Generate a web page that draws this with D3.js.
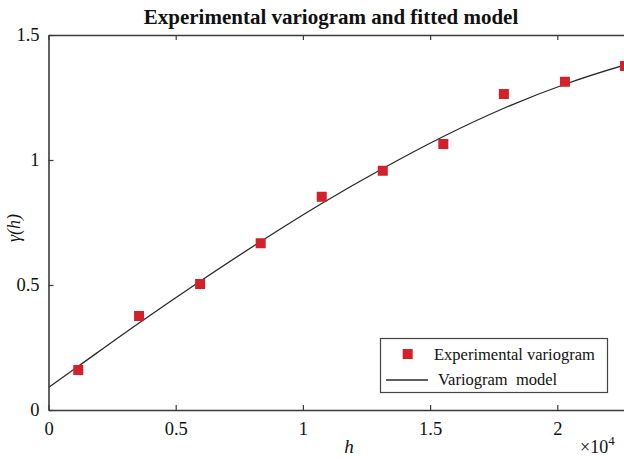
<!DOCTYPE html>
<html>
<head>
<meta charset="utf-8">
<script src="https://cdn.jsdelivr.net/npm/d3@7"></script>
<style>
  html, body { margin: 0; padding: 0; background: #fff; }
  svg { display: block; font-family: "Liberation Serif", "Times New Roman", serif; }
</style>
</head>
<body>
<div id="chart"></div>
<script>
// Experimental variogram: lag distance h and semivariance gamma(h)
const lagH = [1170, 3560, 5960, 8340, 10740, 13140, 15520, 17900, 20300, 22660];
const gammaExp = [0.160, 0.376, 0.504, 0.667, 0.853, 0.957, 1.064, 1.264, 1.313, 1.376];

// Fitted variogram model, sampled along h
const modelH = [0, 1170, 3560, 5960, 8340, 10740, 13140, 15520, 17900, 20300, 22660, 23000];
const modelGamma = [0.090, 0.175, 0.348, 0.515, 0.674, 0.826, 0.966, 1.094, 1.207, 1.303, 1.380, 1.390];

// Axis ticks
const xTicks = [0, 5000, 10000, 15000, 20000];
const xTickLabels = ["0", "0.5", "1", "1.5", "2"];
const yTicks = [0, 0.5, 1, 1.5];
const yTickLabels = ["0", "0.5", "1", "1.5"];

const W = 624, H = 459;
const plotLeft = 48.5, plotTop = 35, plotBottom = 410;
const xMax = 23000;
const plotRight = plotLeft + 254.4 * (xMax / 10000);

const svg = d3.select("#chart").append("svg")
  .attr("width", W).attr("height", H);

const x = d3.scaleLinear().domain([0, xMax]).range([plotLeft, plotRight]);
const y = d3.scaleLinear().domain([0, 1.5]).range([plotBottom, plotTop]);

const axisColor = "#3a3a3a";

svg.append("defs").append("clipPath").attr("id", "plot")
  .append("rect").attr("x", plotLeft).attr("y", plotTop)
  .attr("width", plotRight - plotLeft).attr("height", plotBottom - plotTop);

// Title
svg.append("text")
  .attr("x", 331).attr("y", 24)
  .attr("text-anchor", "middle")
  .attr("font-weight", "bold")
  .attr("font-size", 21)
  .attr("fill", "#111")
  .text("Experimental variogram and fitted model");

// Model curve
const line = d3.line()
  .x((d, i) => x(modelH[i]))
  .y(d => y(d))
  .curve(d3.curveMonotoneX);

svg.append("path")
  .attr("clip-path", "url(#plot)")
  .attr("d", line(modelGamma))
  .attr("fill", "none")
  .attr("stroke", "#2a2a2a")
  .attr("stroke-width", 1.3);

// Experimental points
const sq = 10;
svg.append("g").selectAll("rect")
  .data(gammaExp)
  .join("rect")
  .attr("x", (d, i) => x(lagH[i]) - sq / 2)
  .attr("y", d => y(d) - sq / 2)
  .attr("width", sq).attr("height", sq)
  .attr("fill", "#d4202a");

// Axes (inward ticks on all visible sides)
const tickLen = 5;
const xAxisB = d3.axisBottom(x).tickValues(xTicks).tickSizeInner(-tickLen).tickSizeOuter(0)
  .tickFormat((d, i) => xTickLabels[i]).tickPadding(12);
const xAxisT = d3.axisTop(x).tickValues(xTicks).tickSizeInner(-tickLen).tickSizeOuter(0)
  .tickFormat("");
const yAxisL = d3.axisLeft(y).tickValues(yTicks).tickSizeInner(-tickLen).tickSizeOuter(0)
  .tickFormat((d, i) => yTickLabels[i]).tickPadding(9);

function styleAxis(g) {
  g.select(".domain").attr("stroke", axisColor).attr("stroke-width", 1.6);
  g.selectAll(".tick line").attr("stroke", axisColor).attr("stroke-width", 1.2);
  g.selectAll(".tick text")
    .attr("font-family", "Liberation Serif, Times New Roman, serif")
    .attr("font-size", 18.5).attr("fill", "#111");
}

svg.append("g").attr("transform", `translate(0,${plotBottom})`).call(xAxisB).call(styleAxis);
svg.append("g").attr("transform", `translate(0,${plotTop})`).call(xAxisT).call(styleAxis);
svg.append("g").attr("transform", `translate(${plotLeft},0)`).call(yAxisL).call(styleAxis);

// Axis labels
svg.append("text")
  .attr("x", 349).attr("y", 453)
  .attr("text-anchor", "middle")
  .attr("font-style", "italic")
  .attr("font-size", 19)
  .attr("fill", "#111")
  .text("h");

svg.append("text")
  .attr("transform", "translate(20,228) rotate(-90)")
  .attr("text-anchor", "middle")
  .attr("font-style", "italic")
  .attr("font-size", 18)
  .attr("fill", "#111")
  .text("γ(h)");

// Exponent for the x axis
const expo = svg.append("text")
  .attr("x", 580).attr("y", 453)
  .attr("font-size", 18)
  .attr("fill", "#111");
expo.append("tspan").text("×10");
expo.append("tspan").attr("dy", -8).attr("font-size", 13).text("4");

// Legend
const lg = svg.append("g");
lg.append("rect")
  .attr("x", 380.5).attr("y", 338.5)
  .attr("width", 227).attr("height", 54)
  .attr("fill", "#fff")
  .attr("stroke", "#444").attr("stroke-width", 1.2);
lg.append("rect")
  .attr("x", 407.7 - sq / 2).attr("y", 354 - sq / 2)
  .attr("width", sq).attr("height", sq)
  .attr("fill", "#d4202a");
lg.append("text")
  .attr("x", 434).attr("y", 360)
  .attr("font-size", 16.5).attr("fill", "#111")
  .text("Experimental variogram");
lg.append("line")
  .attr("x1", 386).attr("x2", 428).attr("y1", 380).attr("y2", 380)
  .attr("stroke", "#2a2a2a").attr("stroke-width", 1.3);
lg.append("text")
  .attr("x", 438).attr("y", 385)
  .attr("font-size", 16.5).attr("fill", "#111")
  .attr("xml:space", "preserve")
  .text("Variogram  model");
</script>
</body>
</html>
